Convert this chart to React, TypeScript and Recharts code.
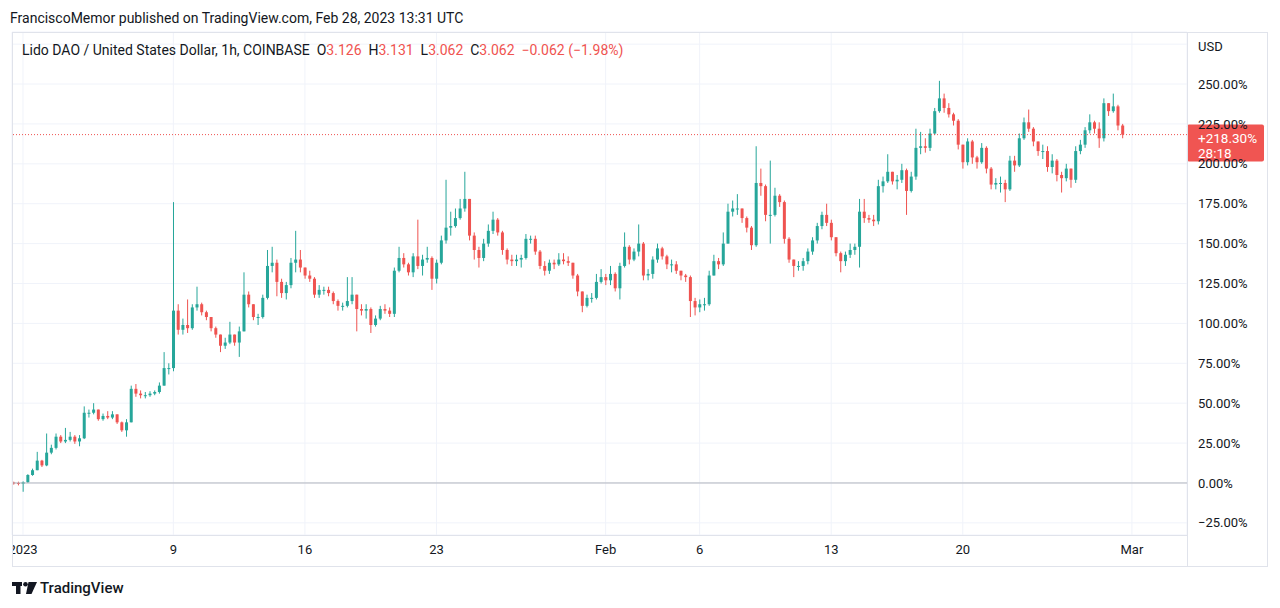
import React from 'react';
import { ComposedChart, Bar, XAxis, YAxis, CartesianGrid, ReferenceLine } from 'recharts';

// 6-hour candles, percent change vs first bar, starting Dec 31 12:00 UTC (day -0.5)
const START_DAY = -0.5;
const STEP_DAYS = 0.25;
const FIRST_OPEN = 0.3;

const CLOSES = [
  0, -0.5, 0.5, 5, 8, 14, 11, 19, 22, 29, 26, 27, 29, 26, 28, 44, 44, 46, 40, 42,
  41, 43, 38, 33, 38, 59, 56, 55, 55, 56, 57, 61, 72, 72, 108, 96, 99, 97, 110, 112,
  107, 104, 97, 93, 86, 88, 93, 88, 95, 118, 112, 104, 104, 116, 136, 138, 126, 119, 124, 138,
  140, 135, 130, 128, 118, 121, 121, 119, 114, 111, 111, 114, 118, 109, 108, 109, 99, 103, 109, 108,
  106, 133, 141, 137, 132, 142, 136, 140, 141, 128, 138, 152, 160, 161, 166, 172, 178, 155, 146, 141,
  150, 158, 165, 157, 146, 140, 139, 140, 141, 153, 153, 145, 136, 133, 138, 137, 140, 139, 138, 130,
  120, 111, 116, 116, 126, 129, 127, 131, 122, 136, 148, 140, 145, 150, 130, 131, 140, 147, 142, 137,
  137, 133, 130, 129, 114, 110, 112, 112, 130, 139, 137, 150, 170, 172, 172, 166, 160, 149, 188, 186,
  168, 168, 180, 176, 153, 140, 136, 136, 139, 145, 152, 161, 168, 163, 154, 144, 139, 143, 146, 148,
  170, 166, 165, 164, 186, 189, 195, 189, 190, 196, 183, 192, 210, 211, 210, 219, 233, 241, 235, 231,
  227, 212, 201, 214, 204, 201, 210, 197, 187, 188, 188, 184, 202, 199, 216, 226, 222, 214, 208, 208,
  198, 202, 193, 191, 197, 190, 208, 212, 221, 226, 222, 216, 238, 233, 236, 224, 218.3,
];

const HIGHS = [
  0.8, 0.8, 1, 5.5, 9, 19.5, 14.5, 31, 24, 31, 30, 34.5, 32, 30, 30, 48, 46, 50, 46, 43.5,
  45, 45, 43, 38.5, 40, 61, 62, 58, 57, 57.5, 58, 63, 82, 75, 176, 112, 103, 115, 112, 123,
  113, 108, 104, 98, 93, 91, 101, 93, 98, 132, 120, 112, 106, 118, 146, 148, 140, 128, 126, 141,
  158, 146, 135, 133, 129, 124, 123, 123, 120, 115, 113, 129, 129, 118, 112, 112, 110, 105, 111, 112,
  110, 135, 148, 144, 138, 144, 165, 143, 148, 142, 140, 155, 190, 170, 172, 178, 195, 178, 157, 148,
  153, 162, 170, 166, 158, 147, 143, 143, 143, 156, 155, 155, 146, 139, 140, 140, 144, 144, 142, 138,
  131, 120, 118, 119, 131, 134, 131, 136, 132, 138, 157, 149, 147, 162, 151, 134, 142, 150, 148, 143,
  140, 139, 133, 131, 130, 116, 115, 116, 133, 143, 141, 157, 175, 177, 181, 172, 167, 161, 211, 197,
  187, 202, 185, 181, 177, 154, 140, 139, 141, 147, 154, 163, 170, 175, 165, 154, 145, 145, 150, 150,
  178, 178, 168, 168, 190, 192, 206, 195, 193, 200, 197, 195, 222, 220, 216, 222, 235, 252, 244, 238,
  232, 228, 212, 216, 215, 205, 213, 211, 198, 191, 192, 190, 205, 205, 219, 229, 234, 223, 214, 212,
  211, 206, 203, 195, 200, 197, 211, 215, 223, 231, 227, 226, 241, 238, 244, 237, 225,
];

const LOWS = [
  -1, -1.5, -5.5, 0, 4.5, 8, 10, 10.5, 18, 21, 25, 25, 26, 24.5, 23, 27.5, 41, 43, 39, 39,
  40, 40, 37, 32, 29, 38, 54, 53, 53, 54, 55, 56, 61, 68, 70, 93, 93, 94, 96, 108,
  105, 102, 95, 91, 82, 84, 87, 86, 79, 95, 110, 102, 99, 103, 115, 132, 117, 116, 115, 122,
  132, 132, 128, 126, 116, 116, 118, 117, 112, 108, 108, 110, 112, 95, 105, 103, 94, 98, 102, 106,
  104, 104, 132, 135, 130, 129, 134, 130, 138, 121, 125, 137, 150, 155, 160, 165, 170, 152, 140, 135,
  139, 148, 156, 155, 143, 137, 136, 136, 135, 140, 150, 143, 134, 130, 131, 134, 136, 137, 136, 128,
  117, 107, 110, 113, 115, 125, 124, 124, 120, 115, 135, 137, 139, 142, 127, 127, 128, 138, 140, 134,
  132, 131, 127, 126, 104, 105, 107, 108, 111, 130, 134, 136, 150, 167, 168, 163, 157, 146, 148, 180,
  164, 150, 167, 173, 150, 138, 129, 133, 133, 137, 143, 150, 159, 161, 152, 142, 132, 136, 141, 143,
  135, 163, 163, 161, 162, 182, 188, 187, 184, 188, 168, 182, 190, 206, 207, 208, 218, 232, 232, 229,
  224, 209, 197, 199, 200, 197, 200, 194, 184, 184, 182, 176, 183, 195, 198, 215, 220, 211, 205, 203,
  195, 194, 189, 182, 189, 185, 188, 206, 210, 219, 219, 210, 214, 230, 232, 221, 216,
];

const X_TICKS = [0, 8, 15, 22, 31, 36, 43, 50, 59];
const X_TICK_LABELS = ['2023', '9', '16', '23', 'Feb', '6', '13', '20', 'Mar'];
const Y_TICKS = [-25, 0, 25, 50, 75, 100, 125, 150, 175, 200, 225, 250, 275];
const CURRENCY_TICK = 275;
const LAST_CHANGE = 218.3;
const LAST_CHANGE_LABEL = '+218.30%';
const COUNTDOWN = '28:18';

const UP = '#26a69a';
const DOWN = '#ef5350';
const TEXT = '#131722';
const BORDER = '#e0e3eb';
const GRID = '#f0f3fa';
const FONT = 'Roboto, "Noto Sans", sans-serif';

const rows = CLOSES.map((c, i) => ({
  t: START_DAY + i * STEP_DAYS,
  o: i === 0 ? FIRST_OPEN : CLOSES[i - 1],
  h: HIGHS[i],
  l: LOWS[i],
  c,
  range: [LOWS[i], HIGHS[i]],
}));

const Candle = (props: any) => {
  const { x, y, width, height, payload } = props;
  if (x == null || y == null || !payload) return null;
  const top = Math.min(y, y + height);
  const h = Math.abs(height);
  const hi = payload.h;
  const lo = payload.l;
  const span = hi - lo || 1;
  const py = (v: number) => top + ((hi - v) / span) * h;
  const up = payload.c >= payload.o;
  const color = up ? UP : DOWN;
  const cx = x + width / 2;
  const yo = py(payload.o);
  const yc = py(payload.c);
  const bt = Math.min(yo, yc);
  const bh = Math.max(1, Math.abs(yo - yc));
  return (
    <g>
      <line x1={cx} x2={cx} y1={top} y2={top + h} stroke={color} strokeWidth={1} />
      <rect x={x} y={bt} width={width} height={bh} fill={color} />
    </g>
  );
};

const XTick = (props: any) => {
  const { x, y, payload, index } = props;
  const idx = X_TICKS.indexOf(payload.value);
  const label = idx >= 0 ? X_TICK_LABELS[idx] : '';
  if (index === 0) {
    return (
      <g>
        <defs>
          <clipPath id="xclip">
            <rect x={12} y={y - 20} width={1175} height={40} />
          </clipPath>
        </defs>
        <g clipPath="url(#xclip)">
          <text x={x} y={y} dy="0.71em" textAnchor="middle" fill={TEXT} fontSize={13} fontFamily={FONT}>
            {label}
          </text>
        </g>
      </g>
    );
  }
  return (
    <text x={x} y={y} dy="0.71em" textAnchor="middle" fill={TEXT} fontSize={13} fontFamily={FONT}>
      {label}
    </text>
  );
};

const YTick = (props: any) => {
  const { x, y, payload } = props;
  const v = payload.value;
  const isCurrency = v === CURRENCY_TICK;
  const label = isCurrency ? 'USD' : `${v < 0 ? '\u2212' : ''}${Math.abs(v).toFixed(2)}%`;
  return (
    <text
      x={x}
      y={isCurrency ? y + 2 : y}
      dy="0.355em"
      textAnchor="start"
      fill={TEXT}
      fontSize={13}
      fontFamily={FONT}
    >
      {label}
    </text>
  );
};

const PriceLabel = (props: any) => {
  const vb = props.viewBox;
  if (!vb) return null;
  const lx = vb.x + vb.width;
  const ly = vb.y;
  return (
    <g>
      <rect x={lx} y={ly - 10} width={77} height={37} rx={2} fill="#f05552" />
      <text x={lx + 11} y={ly + 3.5} dy="0.355em" fill="#ffffff" fontSize={13.5} fontFamily={FONT}>
        {LAST_CHANGE_LABEL}
      </text>
      <text x={lx + 11} y={ly + 18.5} dy="0.355em" fill="#ffffff" fontSize={13.5} fontFamily={FONT}>
        {COUNTDOWN}
      </text>
    </g>
  );
};

const Logo = () => (
  <svg width={26} height={13} viewBox="0 0 26 13" style={{ position: 'absolute', left: 12, top: 582 }}>
    <rect x={0} y={0} width={10} height={4} fill={TEXT} />
    <rect x={4} y={0} width={4.5} height={12} fill={TEXT} />
    <circle cx={13.5} cy={2.3} r={2.3} fill={TEXT} />
    <polygon points="16.5,0 25,0 19.5,12 14,12" fill={TEXT} />
  </svg>
);

export default function App() {
  return (
    <div
      style={{
        position: 'absolute',
        left: 0,
        top: 0,
        width: 1280,
        height: 608,
        background: '#ffffff',
        fontFamily: FONT,
        color: TEXT,
        overflow: 'hidden',
      }}
    >
      <div style={{ position: 'absolute', left: 0, top: 0 }}>
        <ComposedChart
          width={1280}
          height={608}
          data={rows}
          margin={{ top: 32, right: 12, bottom: 41, left: 12 }}
        >
          <CartesianGrid stroke={GRID} vertical={true} horizontal={true} />
          <XAxis
            dataKey="t"
            type="number"
            domain={[-0.585, 61.93]}
            allowDataOverflow
            ticks={X_TICKS}
            interval={0}
            height={32}
            tickLine={false}
            axisLine={false}
            tickSize={0}
            tickMargin={10}
            tick={<XTick />}
          />
          <YAxis
            orientation="right"
            type="number"
            domain={[-32.6, 282.6]}
            allowDataOverflow
            ticks={Y_TICKS}
            interval={0}
            width={81}
            tickLine={false}
            axisLine={false}
            tickSize={0}
            tickMargin={11}
            tick={<YTick />}
          />
          <ReferenceLine y={0} stroke="#b2b5be" strokeWidth={1} />
          <Bar dataKey="range" barSize={3} shape={<Candle />} isAnimationActive={false} />
          <ReferenceLine
            y={LAST_CHANGE}
            stroke="#ef5350"
            strokeDasharray="1 2"
            strokeWidth={1}
            label={<PriceLabel />}
          />
        </ComposedChart>
      </div>

      {/* frame */}
      <div
        style={{
          position: 'absolute',
          left: 12,
          top: 32,
          width: 1256,
          height: 535,
          border: `1px solid ${BORDER}`,
          boxSizing: 'border-box',
          pointerEvents: 'none',
        }}
      />
      <div style={{ position: 'absolute', left: 1187, top: 32, width: 1, height: 535, background: BORDER }} />
      <div style={{ position: 'absolute', left: 12, top: 535, width: 1175, height: 1, background: BORDER }} />

      <div
        style={{
          position: 'absolute',
          left: 10,
          top: 8,
          fontSize: 14,
          lineHeight: '20px',
          whiteSpace: 'nowrap',
        }}
      >
        FranciscoMemor published on TradingView.com, Feb 28, 2023 13:31 UTC
      </div>
      <div
        style={{
          position: 'absolute',
          left: 22,
          top: 41,
          fontSize: 14,
          lineHeight: '18px',
          whiteSpace: 'pre',
        }}
      >
        <span>Lido DAO / United States Dollar, 1h, COINBASE  </span>
        <span>O</span><span style={{ color: DOWN }}>3.126</span>
        <span>  H</span><span style={{ color: DOWN }}>3.131</span>
        <span>  L</span><span style={{ color: DOWN }}>3.062</span>
        <span>  C</span><span style={{ color: DOWN }}>3.062</span>
        <span style={{ color: DOWN }}>  {'\u2212'}0.062 ({'\u2212'}1.98%)</span>
      </div>

      <Logo />
      <div
        style={{
          position: 'absolute',
          left: 40,
          top: 578,
          fontSize: 15,
          lineHeight: '20px',
          fontWeight: 500,
        }}
      >
        TradingView
      </div>
    </div>
  );
}
